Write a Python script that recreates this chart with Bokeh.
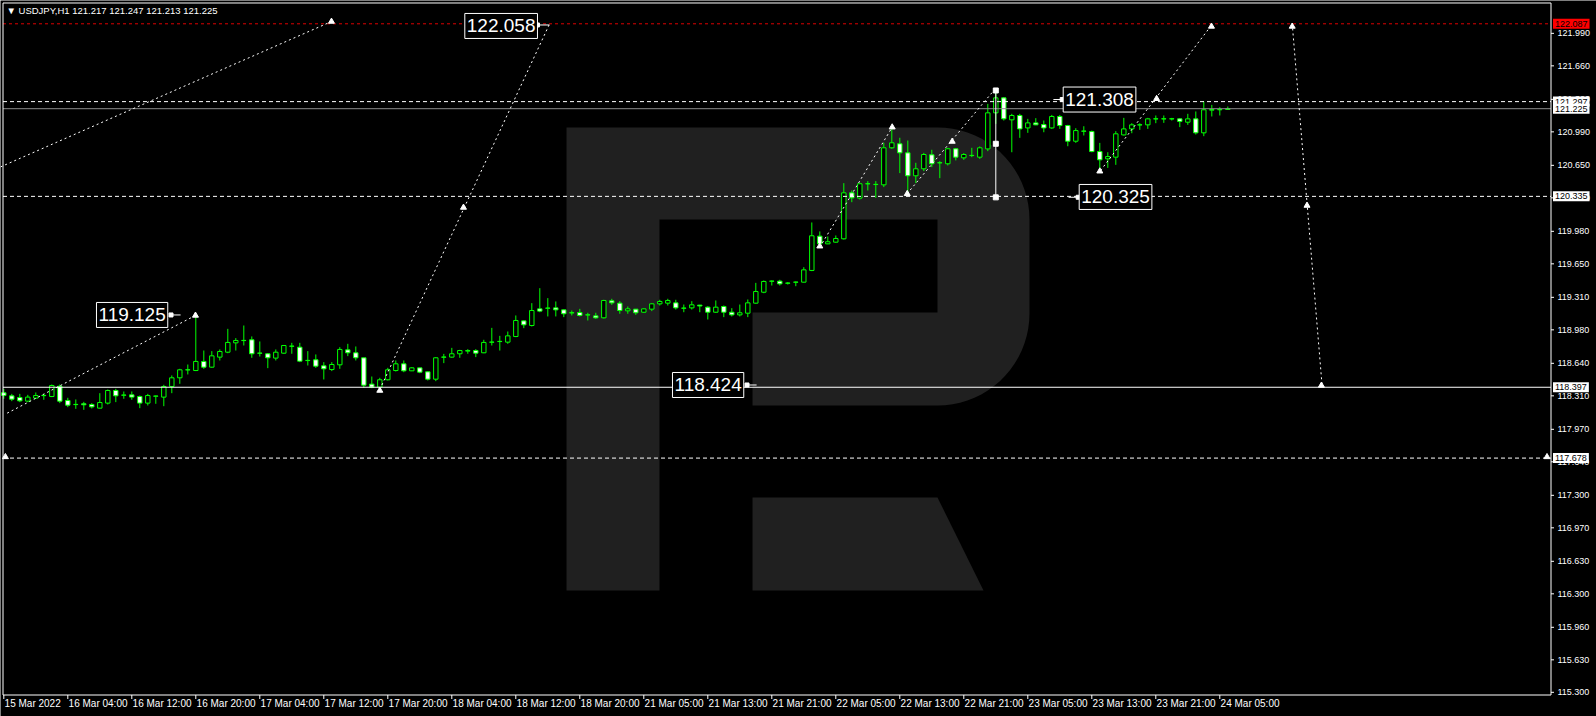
import numpy as np
import pandas as pd
from bokeh.plotting import figure
from bokeh.models import Range1d, Label, ColumnDataSource
from bokeh.core.properties import value
from bokeh.embed import file_html
from bokeh.resources import INLINE

# ---------------- data (USDJPY H1) ----------------
bars = list(range(154))
open_ = [118.341, 118.310, 118.293, 118.256, 118.287, 118.312, 118.303, 118.408, 118.263, 118.221,
         118.229, 118.222, 118.185, 118.236, 118.364, 118.316, 118.320, 118.303, 118.236, 118.306,
         118.297, 118.405, 118.493, 118.573, 118.567, 118.659, 118.601, 118.703, 118.753, 118.848,
         118.871, 118.879, 118.742, 118.737, 118.693, 118.743, 118.813, 118.804, 118.668, 118.676,
         118.615, 118.577, 118.625, 118.777, 118.747, 118.696, 118.429, 118.398, 118.473, 118.567,
         118.635, 118.564, 118.594, 118.554, 118.479, 118.702, 118.703, 118.737, 118.764, 118.770,
         118.747, 118.854, 118.861, 118.855, 118.912, 119.071, 119.024, 119.193, 119.199, 119.203,
         119.183, 119.152, 119.156, 119.131, 119.122, 119.102, 119.275, 119.251, 119.173, 119.190,
         119.159, 119.190, 119.244, 119.251, 119.254, 119.199, 119.203, 119.231, 119.210, 119.159,
         119.217, 119.159, 119.132, 119.149, 119.251, 119.362, 119.473, 119.474, 119.453, 119.463,
         119.464, 119.583, 119.931, 119.853, 119.870, 119.904, 120.371, 120.317, 120.462, 120.455,
         120.452, 120.828, 120.869, 120.777, 120.544, 120.615, 120.757, 120.675, 120.666, 120.818,
         120.726, 120.749, 120.733, 120.817, 121.183, 121.335, 121.112, 121.156, 121.030, 121.081,
         121.064, 121.030, 121.146, 121.054, 120.895, 120.996, 120.993, 120.790, 120.716, 120.733,
         120.959, 121.020, 121.060, 121.061, 121.121, 121.121, 121.121, 121.122, 121.088, 121.122,
         120.980, 121.210, 121.214, 121.217]
high = [118.381, 118.330, 118.330, 118.320, 118.344, 118.330, 118.425, 118.425, 118.290, 118.273,
        118.249, 118.236, 118.337, 118.374, 118.381, 118.354, 118.354, 118.313, 118.330, 118.313,
        118.422, 118.517, 118.584, 118.628, 119.132, 118.770, 118.764, 118.781, 118.990, 118.896,
        119.024, 118.913, 118.862, 118.743, 118.781, 118.821, 118.848, 118.848, 118.764, 118.730,
        118.652, 118.652, 118.804, 118.838, 118.811, 118.696, 118.506, 118.493, 118.594, 118.669,
        118.669, 118.601, 118.594, 118.557, 118.703, 118.736, 118.797, 118.777, 118.784, 118.784,
        118.879, 119.000, 118.919, 118.963, 119.126, 119.075, 119.251, 119.403, 119.302, 119.268,
        119.186, 119.176, 119.193, 119.153, 119.153, 119.285, 119.295, 119.271, 119.217, 119.190,
        119.197, 119.251, 119.285, 119.295, 119.285, 119.237, 119.271, 119.234, 119.220, 119.278,
        119.227, 119.200, 119.237, 119.288, 119.457, 119.481, 119.481, 119.488, 119.464, 119.471,
        119.616, 120.070, 119.979, 119.928, 119.938, 120.469, 120.395, 120.473, 120.490, 120.490,
        120.879, 121.048, 120.930, 120.902, 120.676, 120.777, 120.808, 120.693, 120.828, 120.825,
        120.774, 120.828, 120.842, 121.274, 121.410, 121.342, 121.173, 121.173, 121.122, 121.129,
        121.105, 121.162, 121.162, 121.061, 121.027, 121.047, 121.003, 120.878, 120.783, 120.997,
        121.132, 121.078, 121.078, 121.132, 121.156, 121.156, 121.132, 121.129, 121.173, 121.197,
        121.298, 121.264, 121.241, 121.247]
low = [118.280, 118.256, 118.246, 118.246, 118.280, 118.270, 118.297, 118.236, 118.195, 118.178,
       118.168, 118.182, 118.182, 118.222, 118.246, 118.280, 118.270, 118.185, 118.212, 118.229,
       118.205, 118.337, 118.432, 118.527, 118.561, 118.584, 118.594, 118.669, 118.743, 118.770,
       118.821, 118.696, 118.709, 118.591, 118.669, 118.737, 118.737, 118.652, 118.618, 118.594,
       118.476, 118.561, 118.584, 118.713, 118.669, 118.391, 118.388, 118.381, 118.466, 118.557,
       118.550, 118.561, 118.540, 118.466, 118.459, 118.642, 118.696, 118.696, 118.737, 118.703,
       118.743, 118.821, 118.770, 118.838, 118.906, 118.997, 119.014, 119.159, 119.116, 119.116,
       119.109, 119.126, 119.116, 119.075, 119.092, 119.095, 119.234, 119.143, 119.143, 119.132,
       119.153, 119.170, 119.227, 119.227, 119.186, 119.159, 119.186, 119.159, 119.085, 119.153,
       119.109, 119.116, 119.116, 119.109, 119.244, 119.352, 119.430, 119.430, 119.440, 119.423,
       119.461, 119.576, 119.836, 119.850, 119.864, 119.897, 120.276, 120.303, 120.395, 120.320,
       120.429, 120.818, 120.571, 120.344, 120.469, 120.591, 120.632, 120.520, 120.649, 120.700,
       120.706, 120.733, 120.716, 120.794, 121.071, 121.105, 120.783, 120.929, 120.980, 121.058,
       120.986, 121.020, 121.020, 120.844, 120.878, 120.953, 120.783, 120.580, 120.624, 120.655,
       120.953, 120.976, 121.010, 121.020, 121.078, 121.081, 121.105, 121.038, 121.061, 120.963,
       120.946, 121.146, 121.156, 121.213]
close = [118.314, 118.276, 118.259, 118.297, 118.313, 118.314, 118.415, 118.256, 118.215, 118.223,
         118.219, 118.198, 118.242, 118.364, 118.310, 118.318, 118.297, 118.236, 118.313, 118.308,
         118.405, 118.493, 118.574, 118.575, 118.659, 118.601, 118.716, 118.760, 118.852, 118.872,
         118.873, 118.737, 118.744, 118.696, 118.753, 118.821, 118.815, 118.662, 118.670, 118.611,
         118.584, 118.628, 118.781, 118.747, 118.696, 118.418, 118.398, 118.473, 118.574, 118.635,
         118.564, 118.594, 118.550, 118.479, 118.696, 118.704, 118.737, 118.770, 118.770, 118.743,
         118.852, 118.856, 118.863, 118.919, 119.075, 119.031, 119.176, 119.170, 119.201, 119.183,
         119.143, 119.154, 119.126, 119.133, 119.102, 119.278, 119.254, 119.176, 119.193, 119.153,
         119.193, 119.244, 119.268, 119.278, 119.203, 119.201, 119.234, 119.222, 119.159, 119.210,
         119.159, 119.132, 119.153, 119.254, 119.369, 119.471, 119.475, 119.447, 119.455, 119.465,
         119.589, 119.935, 119.853, 119.874, 119.907, 120.371, 120.320, 120.463, 120.464, 120.457,
         120.828, 120.879, 120.777, 120.544, 120.615, 120.760, 120.666, 120.677, 120.818, 120.733,
         120.760, 120.751, 120.828, 121.183, 121.335, 121.122, 121.156, 121.020, 121.081, 121.061,
         121.030, 121.146, 121.054, 120.895, 121.003, 120.998, 120.790, 120.706, 120.739, 120.970,
         121.020, 121.061, 121.062, 121.122, 121.123, 121.123, 121.123, 121.096, 121.122, 120.980,
         121.214, 121.217, 121.217, 121.225]

date_tick_bars = [0, 8, 16, 24, 32, 40, 48, 56, 64, 72, 80, 88, 96, 104, 112, 120, 128, 136, 144, 152]
date_labels = ["15 Mar 2022", "16 Mar 04:00", "16 Mar 12:00", "16 Mar 20:00", "17 Mar 04:00",
               "17 Mar 12:00", "17 Mar 20:00", "18 Mar 04:00", "18 Mar 12:00", "18 Mar 20:00",
               "21 Mar 05:00", "21 Mar 13:00", "21 Mar 21:00", "22 Mar 05:00", "22 Mar 13:00",
               "22 Mar 21:00", "23 Mar 05:00", "23 Mar 13:00", "23 Mar 21:00", "24 Mar 05:00"]
price_ticks = [121.990, 121.660, 121.320, 120.990, 120.650, 120.320, 119.980, 119.650, 119.310,
               118.980, 118.640, 118.310, 117.970, 117.640, 117.300, 116.970, 116.630, 116.300,
               115.960, 115.630, 115.300]

# horizontal levels
level_prices = [122.087, 121.297, 121.225, 120.335, 118.397, 117.678]
level_colors = ["#dd0000", "white", "#8c8c8c", "white", "white", "white"]
level_dashes = ["3 3", "4 3", "solid", "4 3", "solid", "4 3"]
level_box_bg = ["#ff0000", "white", "white", "white", "white", "white"]

# dotted arrowed trend lines (bar index, price)
trend_x0 = [0.42, -0.41, 47.0, 102.0, 112.9, 137.1, 161.05]
trend_y0 = [118.134, 120.634, 118.374, 119.819, 120.361, 120.598, 122.090]
trend_x1 = [23.96, 40.96, 68.3, 111.05, 123.75, 151.1, 164.8]
trend_y1 = [119.126, 122.110, 122.100, 121.037, 121.410, 122.087, 118.400]
mark_x = [23.96, 40.96, 47.0, 57.46, 102.0, 111.05, 112.93, 118.55, 137.0, 144.1, 150.96,
          161.05, 162.9, 164.7, 0.2, 192.9]
mark_y = [119.126, 122.11, 118.364, 120.222, 119.829, 121.037, 120.361, 120.892, 120.590,
          121.326, 122.06, 122.06, 120.242, 118.415, 117.69, 117.69]

# price labels drawn on the chart
big_text = ["122.058", "119.125", "118.424", "121.308", "120.325"]
big_x = [57.5, 11.46, 83.46, 132.3, 134.3]
big_y = [122.065, 119.131, 118.420, 121.318, 120.329]
conn_x0 = [66.7, 20.9, 92.9, 131.2, 133.1]
conn_x1 = [68.2, 22.1, 94.1, 132.3, 134.3]
conn_y = [122.075, 119.131, 118.420, 121.318, 120.326]
conn_sq_x = [66.7, 20.9, 92.9, 132.3, 134.3]

# vertical measuring segment
vseg_x = 124.0
vseg_prices = [121.410, 120.869, 120.325]

# watermark "R" outline (bar index / price units)
wm_left, wm_stem_r, wm_leg_l, wm_hole_r, wm_right, wm_leg_br = 70.34, 81.96, 93.59, 116.71, 128.21, 122.46
wm_top, wm_hole_t, wm_hole_b, wm_bowl_b, wm_leg_t, wm_bottom = 121.034, 120.100, 119.156, 118.212, 117.278, 116.333

# ---------------- layout constants ----------------
X0, X1 = -0.4125, 199.0875        # visible bar range (canvas)
Y0, Y1 = 115.0545, 122.3235       # visible price range (canvas)
FR_L, FR_R = -0.10, 193.40        # chart frame borders (bars)
FR_B, FR_T = 115.2727, 122.2982   # chart frame borders (price)
PX_X = 1.0 / 8.0                  # one pixel in bar units
PX_Y = 1.0 / 98.5                 # one pixel in price units
FONT = "Liberation Sans"

p = figure(width=1596, height=716, x_range=Range1d(X0, X1), y_range=Range1d(Y0, Y1),
           output_backend="svg", toolbar_location=None, x_axis_location=None, y_axis_location=None,
           background_fill_color="black", border_fill_color="black", outline_line_color=None,
           min_border=0)
p.xgrid.visible = False
p.ygrid.visible = False

# watermark
rx, ry = wm_right - wm_hole_r, wm_top - wm_hole_t
t1 = np.linspace(np.pi / 2, 0, 20)
t2 = np.linspace(0, -np.pi / 2, 20)
arc1_x = list(wm_hole_r + rx * np.cos(t1)); arc1_y = list((wm_top - ry) + ry * np.sin(t1))
arc2_x = list(wm_hole_r + rx * np.cos(t2)); arc2_y = list((wm_bowl_b + ry) + ry * np.sin(t2))
r_xs = [wm_left] + arc1_x + arc2_x + [wm_leg_l, wm_leg_l, wm_hole_r, wm_hole_r, wm_stem_r, wm_stem_r, wm_left]
r_ys = [wm_top] + arc1_y + arc2_y + [wm_bowl_b, wm_hole_b, wm_hole_b, wm_hole_t, wm_hole_t, wm_bottom, wm_bottom]
leg_xs = [wm_leg_l, wm_hole_r, wm_leg_br, wm_leg_l]
leg_ys = [wm_leg_t, wm_leg_t, wm_bottom, wm_bottom]
p.patches(xs=[r_xs, leg_xs], ys=[r_ys, leg_ys], fill_color="#202020", line_color=None)

# candles
df = pd.DataFrame(dict(x=bars, o=open_, h=high, l=low, c=close))
df["top"] = df[["o", "c"]].max(axis=1)
df["bot"] = df[["o", "c"]].min(axis=1)
df["fill"] = np.where(df.c >= df.o, "black", "white")
src = ColumnDataSource(df)
p.segment(x0="x", y0="h", x1="x", y1="l", source=src, line_color="#00ff00", line_width=1)
p.vbar(x="x", width=0.55, top="top", bottom="bot", source=src, fill_color="fill",
       line_color="#00ff00", line_width=1)

# levels (stop at the price scale)
for pr, col, dash in zip(level_prices, level_colors, level_dashes):
    p.segment(x0=[FR_L], y0=[pr], x1=[FR_R], y1=[pr], line_color=col, line_dash=dash, line_width=1)

# trend lines
p.segment(x0=trend_x0, y0=trend_y0, x1=trend_x1, y1=trend_y1, line_color="white",
          line_dash="2 3", line_width=1)
p.scatter(x=mark_x, y=mark_y, marker="triangle", size=6, fill_color="white", line_color="white")

# vertical measuring segment
p.segment(x0=[vseg_x], y0=[vseg_prices[0]], x1=[vseg_x], y1=[vseg_prices[-1]], line_color="white", line_width=1)
p.scatter(x=[vseg_x] * len(vseg_prices), y=vseg_prices, marker="square", size=5,
          fill_color="white", line_color="white")

# connectors of the price labels
p.segment(x0=conn_x0, y0=conn_y, x1=conn_x1, y1=conn_y, line_color="white", line_width=1)
p.scatter(x=conn_sq_x, y=conn_y, marker="square", size=4, fill_color="white", line_color="white")

# chart frame
p.segment(x0=[FR_L, FR_R, FR_L, FR_L], y0=[FR_B, FR_B, FR_T, FR_B],
          x1=[FR_L, FR_R, FR_R, FR_R], y1=[FR_T, FR_T, FR_T, FR_B], line_color="white", line_width=1)

# price scale (right)
p.segment(x0=[FR_R] * len(price_ticks), y0=price_ticks, x1=[FR_R + 3 * PX_X] * len(price_ticks),
          y1=price_ticks, line_color="white", line_width=1)
p.text(x=[FR_R + 6.5 * PX_X] * len(price_ticks), y=price_ticks,
       text=[f"{v:.3f}" for v in price_ticks], text_font=value(FONT),
       text_font_size="9px", text_color="white", text_baseline="middle", text_align="left")

# time scale (bottom)
p.segment(x0=date_tick_bars, y0=[FR_B] * len(date_tick_bars), x1=date_tick_bars,
          y1=[FR_B - 4 * PX_Y] * len(date_tick_bars), line_color="white", line_width=1)
p.text(x=[b + 0.1 for b in date_tick_bars], y=[FR_B - 8.5 * PX_Y] * len(date_tick_bars),
       text=date_labels, text_font=value(FONT), text_font_size="10px",
       text_color="white", text_baseline="middle", text_align="left")

# big price labels
for t, bx, by in zip(big_text, big_x, big_y):
    p.add_layout(Label(x=bx, y=by, text=t, x_offset=1, text_align="left", text_baseline="middle",
                       text_font=FONT, text_font_size="19px", text_color="white",
                       background_fill_color="black", border_line_color="white", border_line_width=1,
                       padding=(2, 6)))

# price-scale boxes
for pr, bg in zip(level_prices, level_box_bg):
    p.add_layout(Label(x=FR_R + 2 * PX_X, y=pr, text=f"{pr:.3f}", x_offset=0, text_align="left",
                       text_baseline="middle", text_font=FONT, text_font_size="9px",
                       text_color="black", background_fill_color=bg, padding=(2, 2)))

# header
p.add_layout(Label(x=X0, y=122.222, x_offset=6, text="\u25bc USDJPY,H1  121.217 121.247 121.213 121.225",
                   text_align="left", text_baseline="middle", text_font=FONT,
                   text_font_size="9.5px", text_color="white"))

open("out.html", "w").write(file_html(p, INLINE))
